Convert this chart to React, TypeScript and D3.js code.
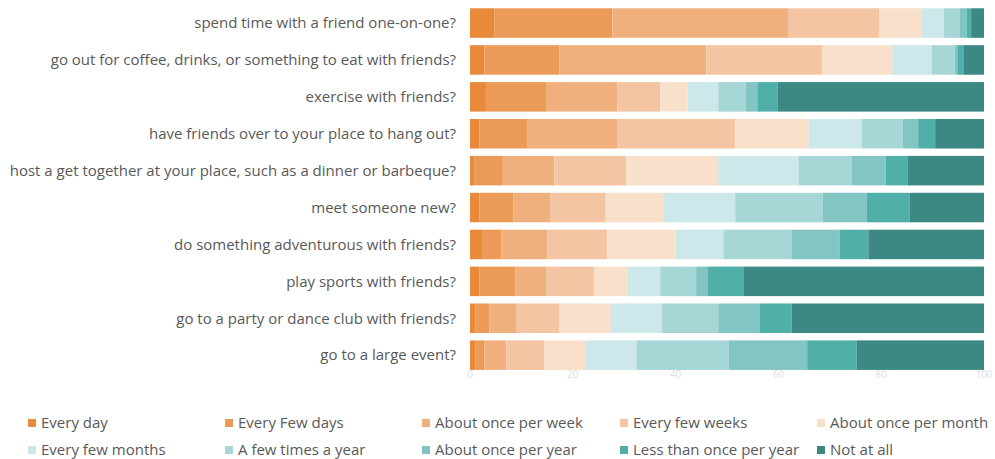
import React from "react";
import * as d3 from "d3";

const categories = [
  "spend time with a friend one-on-one?",
  "go out for coffee, drinks, or something to eat with friends?",
  "exercise with friends?",
  "have friends over to your place to hang out?",
  "host a get together at your place, such as a dinner or barbeque?",
  "meet someone new?",
  "do something adventurous with friends?",
  "play sports with friends?",
  "go to a party or dance club with friends?",
  "go to a large event?",
];

const seriesNames = [
  "Every day",
  "Every Few days",
  "About once per week",
  "Every few weeks",
  "About once per month",
  "Every few months",
  "A few times a year",
  "About once per year",
  "Less than once per year",
  "Not at all",
];

const everyDay = [4.8, 2.8, 3.1, 1.8, 0.8, 1.8, 2.5, 1.8, 1.1, 1.1];
const everyFewDays = [22.9, 14.6, 11.7, 9.3, 5.6, 6.6, 3.6, 7.0, 2.7, 1.7];
const oncePerWeek = [34.3, 28.6, 13.9, 17.6, 10.0, 7.3, 9.0, 6.0, 5.3, 4.3];
const everyFewWeeks = [17.6, 22.6, 8.3, 22.9, 14.0, 10.7, 11.6, 9.3, 8.3, 7.3];
const oncePerMonth = [8.2, 13.6, 5.3, 14.3, 17.9, 11.3, 13.3, 6.6, 10.0, 8.0];
const everyFewMonths = [4.4, 7.6, 6.0, 10.3, 15.6, 13.9, 9.3, 6.3, 9.9, 10.0];
const fewTimesYear = [3.1, 4.5, 5.3, 8.0, 10.3, 17.0, 13.3, 7.0, 11.0, 17.9];
const oncePerYear = [1.3, 0.5, 2.3, 3.0, 6.7, 8.6, 9.3, 2.3, 8.0, 15.3];
const lessThanYearly = [0.9, 1.3, 4.0, 3.3, 4.3, 8.3, 5.6, 7.0, 6.3, 9.6];
const notAtAll = [2.5, 3.9, 40.1, 9.5, 14.8, 14.5, 22.5, 46.7, 37.4, 24.8];

const seriesValues = [
  everyDay,
  everyFewDays,
  oncePerWeek,
  everyFewWeeks,
  oncePerMonth,
  everyFewMonths,
  fewTimesYear,
  oncePerYear,
  lessThanYearly,
  notAtAll,
];

const tickValues = [0, 20, 40, 60, 80, 100];

const colors = [
  "#e9893a",
  "#ec9a57",
  "#f0b07e",
  "#f3c5a2",
  "#f9e0cb",
  "#cce8ea",
  "#a6d6d6",
  "#82c5c2",
  "#50afa9",
  "#3c8882",
];

const W = 995;
const H = 459;
const FONT = "'Open Sans', 'Noto Sans', sans-serif";

export default function App() {
  const x = d3.scaleLinear().domain([0, 100]).range([470, 984]);
  const y = d3
    .scaleBand<string>()
    .domain(categories)
    .range([4.6, 4.6 + 10 * 36.9])
    .paddingInner(0.2)
    .paddingOuter(0.1);

  const rows = categories.map((c, i) => {
    const o: any = { category: c };
    seriesNames.forEach((s, j) => (o[s] = seriesValues[j][i]));
    return o;
  });
  const stacked = d3.stack<any>().keys(seriesNames)(rows);

  const legendCols = [28, 225, 422, 620, 817];
  const legendRows = [423, 450];

  return (
    <svg
      width={W}
      height={H}
      style={{ position: "absolute", left: 0, top: 0, background: "#fff" }}
    >
      {stacked.map((layer, j) => (
        <g key={layer.key} fill={colors[j]}>
          {layer.map((d, i) => (
            <rect
              key={i}
              x={x(d[0])}
              y={y(categories[i])}
              width={Math.max(0, x(d[1]) - x(d[0]))}
              height={y.bandwidth()}
            />
          ))}
        </g>
      ))}
      {categories.map((c) => (
        <text
          key={c}
          x={456}
          y={(y(c) as number) + y.bandwidth() / 2}
          dy="0.35em"
          textAnchor="end"
          fontFamily={FONT}
          fontSize={15}
          fill="#595959"
        >
          {c}
        </text>
      ))}
      {tickValues.map((t) => (
        <text
          key={t}
          x={x(t)}
          y={378}
          textAnchor="middle"
          fontFamily={FONT}
          fontSize={10}
          fill="#dedede"
        >
          {t}
        </text>
      ))}
      {seriesNames.map((s, j) => {
        const cx = legendCols[j % 5];
        const cy = legendRows[Math.floor(j / 5)];
        return (
          <g key={s}>
            <rect x={cx} y={cy - 4} width={8} height={8} fill={colors[j]} />
            <text
              x={cx + 13}
              y={cy}
              dy="0.35em"
              fontFamily={FONT}
              fontSize={15}
              fill="#595959"
            >
              {s}
            </text>
          </g>
        );
      })}
    </svg>
  );
}
